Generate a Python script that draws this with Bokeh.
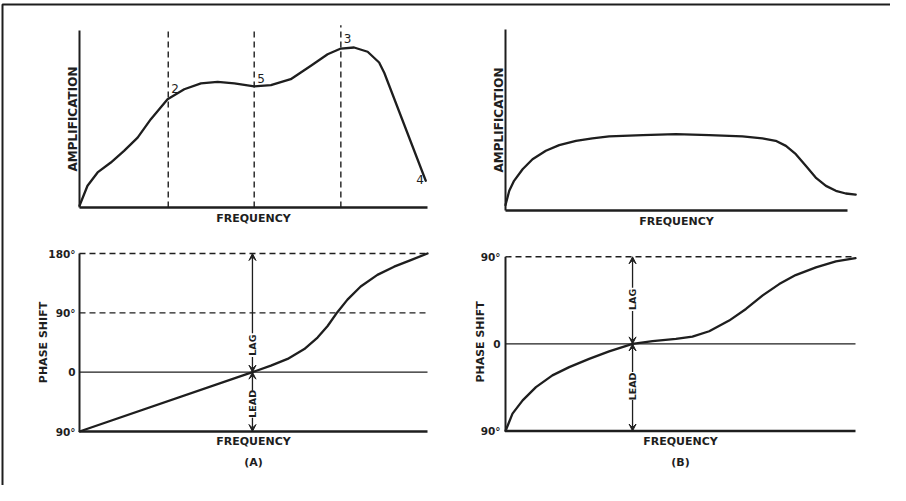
from bokeh.plotting import figure
from bokeh.models import Range1d, Arrow, VeeHead
from bokeh.core.properties import value
from bokeh.embed import file_html
from bokeh.resources import INLINE
import math

# ---------------- DATA ----------------
# (A) amplification vs frequency (arbitrary units 0..10)
freq_a_amp = [0.0, 0.23, 0.52, 0.9, 1.28, 1.67, 2.05, 2.53, 3.01, 3.49, 3.97, 4.45, 5.02, 5.5, 6.07, 6.65, 7.13, 7.51, 7.89, 8.28, 8.61, 8.76, 9.95]
amp_a = [0.1, 1.23, 1.98, 2.54, 3.2, 3.95, 4.99, 6.12, 6.68, 7.01, 7.1, 7.01, 6.84, 6.91, 7.25, 8.01, 8.66, 8.98, 9.04, 8.8, 8.19, 7.6, 1.51]
marker_freqs_a = [2.55, 5.02, 7.51]          # dashed verticals (points 2, 5, 3)
marker_tops_a = [10.05, 10.05, 10.3]
point_labels = ["2", "5", "3", "4"]
point_x = [2.55, 5.02, 7.51, 9.95]
point_y = [6.72, 7.29, 9.55, 1.58]

# (B) amplification vs frequency
freq_b_amp = [0.0, 0.11, 0.25, 0.5, 0.79, 1.18, 1.57, 2.06, 2.54, 3.03, 4.01, 4.98, 5.96, 6.93, 7.51, 7.9, 8.2, 8.49, 8.78, 9.07, 9.37, 9.66, 9.95, 10.24]
amp_b = [0.3, 1.09, 1.64, 2.28, 2.83, 3.3, 3.61, 3.85, 3.99, 4.09, 4.16, 4.22, 4.16, 4.09, 3.99, 3.85, 3.57, 3.11, 2.47, 1.82, 1.36, 1.09, 0.94, 0.88]

# (A) phase shift (degrees, lag positive) vs frequency
freq_a_ph = [0.0, 4.97, 5.5, 5.98, 6.46, 6.84, 7.13, 7.41, 7.7, 8.08, 8.56, 9.04, 9.52, 10.0]
phase_a = [-90, 0, 10, 20.1, 35.1, 52.5, 70, 91, 110, 130, 147.6, 160, 170, 180]
ticks_a = [180, 90, 0, -90]
tick_labels_a = ["180°", "90°", "0", "90°"]

# (B) phase shift vs frequency
freq_b_ph = [0.0, 0.2, 0.49, 0.87, 1.34, 1.82, 2.39, 2.96, 3.63, 4.2, 4.87, 5.34, 5.82, 6.39, 6.87, 7.34, 7.82, 8.29, 8.87, 9.44, 10.0]
phase_b = [-90, -72.1, -58.3, -44.6, -32.5, -24, -15.5, -7.8, 0, 2.8, 5.2, 7.6, 13.1, 24.1, 36.1, 49.9, 61.8, 71.1, 79, 85.2, 88.6]
ticks_b = [90, 0, -90]
tick_labels_b = ["90°", "0", "90°"]

# lag / lead indicator positions (frequency, text centre, gaps around the text)
lag_x_a, lag_text_a, lead_text_a = 4.97, 41, -48
lag_gap_a, lead_gap_a = (23, 59), (-69, -28)
lag_x_b, lag_text_b, lead_text_b = 3.63, 46, -44
lag_gap_b, lead_gap_b = (34, 58), (-58, -29)

# ---------------- LAYOUT ----------------
W, H = 890, 485
INK = "#1e1e1e"
FONT = value("DejaVu Sans")

p = figure(width=W, height=H, output_backend="svg", toolbar_location=None,
           x_range=Range1d(0, W), y_range=Range1d(0, H),
           x_axis_type=None, y_axis_type=None, min_border=0,
           min_border_left=0, min_border_right=0, min_border_top=0, min_border_bottom=0)
p.grid.visible = False
p.outline_line_color = None
p.background_fill_color = "white"
p.border_fill_color = "white"


def xr(px0, px1, v0, v1):
    s = (px1 - px0) / (v1 - v0)
    start = v0 - (px0 - 8) / s
    return Range1d(start, start + W / s)


def yr(py0, py1, v0, v1):
    s = (py0 - py1) / (v1 - v0)
    start = v0 - (H + 8 - py0) / s
    return Range1d(start, start + H / s)


p.extra_x_ranges = {
    "xa1": xr(87, 435, 0, 10), "xb1": xr(513, 855, 0, 10),
    "xa2": xr(87, 435, 0, 10), "xb2": xr(513, 863, 0, 10),
}
p.extra_y_ranges = {
    "ya1": yr(215, 38, 0, 10), "yb1": yr(218, 37, 0, 10),
    "ya2": yr(439, 261, -90, 180), "yb2": yr(438.5, 264.3, -90, 90),
}

# outer frame of the figure plate
p.line([2, 2, 892], [0, 481, 481], line_color=INK, line_width=2)
p.line([892, 892], [481, 0], line_color=INK, line_width=1.8)


def txt(x, y, t, xr_, yr_, angle=0.0, align="center", base="middle", xo=0, yo=0, size="11px", bold=True):
    p.text(x=x, y=y, text=t, x_range_name=xr_, y_range_name=yr_, angle=angle,
           text_align=align, text_baseline=base, x_offset=xo, y_offset=yo,
           text_font=FONT, text_font_size=size, text_color=INK,
           text_font_style="bold" if bold else "normal")


def curve(xn, yn, fx, fy):
    p.line(fx, fy, x_range_name=xn, y_range_name=yn, line_color=INK, line_width=2.3,
           line_join="round", line_cap="round")


def amp_panel(xn, yn, fx, fy):
    p.line([0, 0], [0, 10], x_range_name=xn, y_range_name=yn, line_color=INK, line_width=2)
    p.line([0, 10], [0, 0], x_range_name=xn, y_range_name=yn, line_color=INK, line_width=2.5)
    curve(xn, yn, fx, fy)
    txt([5], [0], ["FREQUENCY"], xn, yn, yo=11)
    txt([0], [5], ["AMPLIFICATION"], xn, yn, angle=math.pi / 2, xo=-7, size="12px")


def phase_panel(xn, yn, fx, fy, ticks, labels, lagx, lag_t, lead_t, lag_gap, lead_gap, cap, tick_xo, ps_xo, ps_y):
    top = ticks[0]
    p.line([0, 0], [-90, top], x_range_name=xn, y_range_name=yn, line_color=INK, line_width=2)
    p.line([0, 10], [-90, -90], x_range_name=xn, y_range_name=yn, line_color=INK, line_width=2.5)
    for t in ticks:
        if t > 0:
            p.line([0, 10], [t, t], x_range_name=xn, y_range_name=yn, line_color=INK,
                   line_width=1.4, line_dash="6 4")
    p.line([0, 10], [0, 0], x_range_name=xn, y_range_name=yn, line_color=INK, line_width=1.1)
    curve(xn, yn, fx, fy)
    txt([0] * len(ticks), ticks, labels, xn, yn, align="right", xo=tick_xo, size="10.5px")
    txt([0], [ps_y], ["PHASE SHIFT"], xn, yn, angle=math.pi / 2, xo=ps_xo)
    txt([5], [-90], ["FREQUENCY"], xn, yn, yo=10)
    txt([5], [-90], [cap], xn, yn, yo=31)
    # lag / lead arrows
    for (a, b) in [(lag_gap[1], top), (lag_gap[0], 0), (lead_gap[1], 0), (lead_gap[0], -90)]:
        p.add_layout(Arrow(x_start=lagx, y_start=a, x_end=lagx, y_end=b,
                           x_range_name=xn, y_range_name=yn, line_color=INK, line_width=1.3,
                           end=VeeHead(size=7, line_color=INK, fill_color=INK, line_width=1)))
    txt([lagx], [lag_t], ["LAG"], xn, yn, angle=math.pi / 2, size="9.5px")
    txt([lagx], [lead_t], ["LEAD"], xn, yn, angle=math.pi / 2, size="9.5px")


# (A) amplification
amp_panel("xa1", "ya1", freq_a_amp, amp_a)
for fx, top in zip(marker_freqs_a, marker_tops_a):
    p.line([fx, fx], [0, top], x_range_name="xa1", y_range_name="ya1", line_color=INK,
           line_width=1.4, line_dash="6 4")
txt(point_x[:3], point_y[:3], point_labels[:3], "xa1", "ya1", align="left", xo=3, size="12px", bold=False)
txt(point_x[3:], point_y[3:], point_labels[3:], "xa1", "ya1", align="right", xo=-2, size="12px", bold=False)

# (B) amplification
amp_panel("xb1", "yb1", freq_b_amp, amp_b)

# phase panels
phase_panel("xa2", "ya2", freq_a_ph, phase_a, ticks_a, tick_labels_a, lag_x_a, lag_text_a, lead_text_a,
            lag_gap_a, lead_gap_a, "(A)", -4, -36, 45)
phase_panel("xb2", "yb2", freq_b_ph, phase_b, ticks_b, tick_labels_b, lag_x_b, lag_text_b, lead_text_b,
            lag_gap_b, lead_gap_b, "(B)", -5, -25, 2)

open("out.html", "w").write(file_html(p, INLINE))
